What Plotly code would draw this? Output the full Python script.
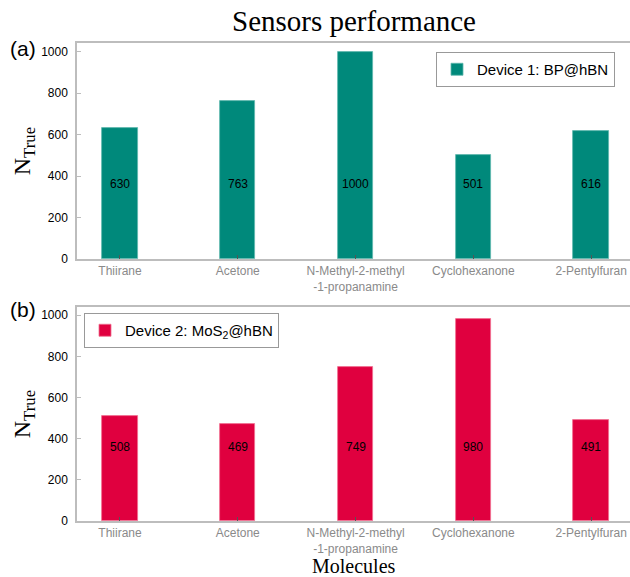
import plotly.graph_objects as go
from plotly.subplots import make_subplots

molecules = ["Thiirane", "Acetone", "N-Methyl-2-methyl<br>-1-propanamine", "Cyclohexanone", "2-Pentylfuran"]
device1_values = [630, 763, 1000, 501, 616]
device2_values = [508, 469, 749, 980, 491]
device1_name = "Device 1: BP@hBN"
device2_name = "Device 2: MoS<sub>2</sub>@hBN"

W, H = 630, 577
TEAL = "#00897b"
CRIMSON = "#e0003f"
SERIF = "Liberation Serif, DejaVu Serif, serif"
SANS = "Liberation Sans, Arial, sans-serif"
LABEL_Y = 360  # value labels sit at a fixed height inside the bars

# plot area in pixels
L, R, T, B = 77, 630, 43, 521
top_bottom, bot_top = 259, 307
ph = B - T

fig = make_subplots(rows=2, cols=1)

fig.add_trace(go.Bar(x=molecules, y=device1_values, name=device1_name, width=0.3,
                     marker=dict(color=TEAL, line=dict(color="#5fb8ad", width=0.8)),
                     legend="legend"), row=1, col=1)
fig.add_trace(go.Bar(x=molecules, y=device2_values, name=device2_name, width=0.3,
                     marker=dict(color=CRIMSON, line=dict(color="#f07090", width=0.8)),
                     legend="legend2"), row=2, col=1)

# value labels
for vals, xref, yref in [(device1_values, "x", "y"), (device2_values, "x2", "y2")]:
    for m, v in zip(molecules, vals):
        fig.add_annotation(x=m, y=LABEL_Y, xref=xref, yref=yref, text=str(v),
                           showarrow=False, font=dict(family=SANS, size=12, color="black"))


def px_x(p):
    return (p - L) / (R - L)


def px_y(p):
    return (B - p) / ph


# panel letters and x title
for txt, yy in [("(a)", 49), ("(b)", 309)]:
    fig.add_annotation(x=px_x(8), y=px_y(yy), xref="paper", yref="paper", text=txt,
                       showarrow=False, xanchor="left", yanchor="middle",
                       font=dict(family=SANS, size=21, color="black"))
fig.add_annotation(x=0.5, y=px_y(566), xref="paper", yref="paper", text="Molecules",
                   showarrow=False, xanchor="center", yanchor="middle",
                   font=dict(family=SERIF, size=20, color="black"))

xaxis_style = dict(
    type="category", range=[-0.365, 4.33],
    showline=True, linecolor="#bdbdbd", linewidth=1.5, mirror=True,
    ticks="inside", ticklen=4, tickcolor="#555555",
    tickfont=dict(family=SANS, size=12, color="#8a8a8a"), showgrid=False, automargin=False,
)
yaxis_style = dict(
    range=[0, 1042], dtick=200, showline=True, linecolor="#bdbdbd", linewidth=1.5,
    ticks="inside", ticklen=4, tickcolor="#bdbdbd", ticklabelstandoff=5,
    tickfont=dict(family=SANS, size=12, color="black"), showgrid=False, zeroline=False,
    automargin=False,
    title=dict(text="N<sub>True</sub>", font=dict(family=SERIF, size=24, color="black"), standoff=4),
)

fig.update_layout(
    width=W, height=H,
    margin=dict(l=L, r=W - R, t=T, b=H - B, autoexpand=False),
    plot_bgcolor="white", paper_bgcolor="white",
    title=dict(text="Sensors performance", x=354 / W, xanchor="center",
               y=1 - 21 / H, yanchor="middle",
               font=dict(family=SERIF, size=29, color="black")),
    xaxis=dict(xaxis_style),
    xaxis2=dict(xaxis_style),
    yaxis=dict(yaxis_style, domain=[px_y(top_bottom), 1.0]),
    yaxis2=dict(yaxis_style, domain=[0.0, px_y(bot_top)], range=[0, 1040]),
    legend=dict(x=px_x(615), y=px_y(52), xanchor="right", yanchor="top",
                bordercolor="#999999", borderwidth=1, bgcolor="white",
                font=dict(family=SANS, size=15, color="black")),
    legend2=dict(x=px_x(84), y=px_y(313), xanchor="left", yanchor="top",
                 bordercolor="#999999", borderwidth=1, bgcolor="white",
                 font=dict(family=SANS, size=15, color="black")),
    showlegend=True,
    bargap=0,
)

fig.write_html("out.html", config={"displayModeBar": False},
               post_script="document.body.style.margin='0px';")
